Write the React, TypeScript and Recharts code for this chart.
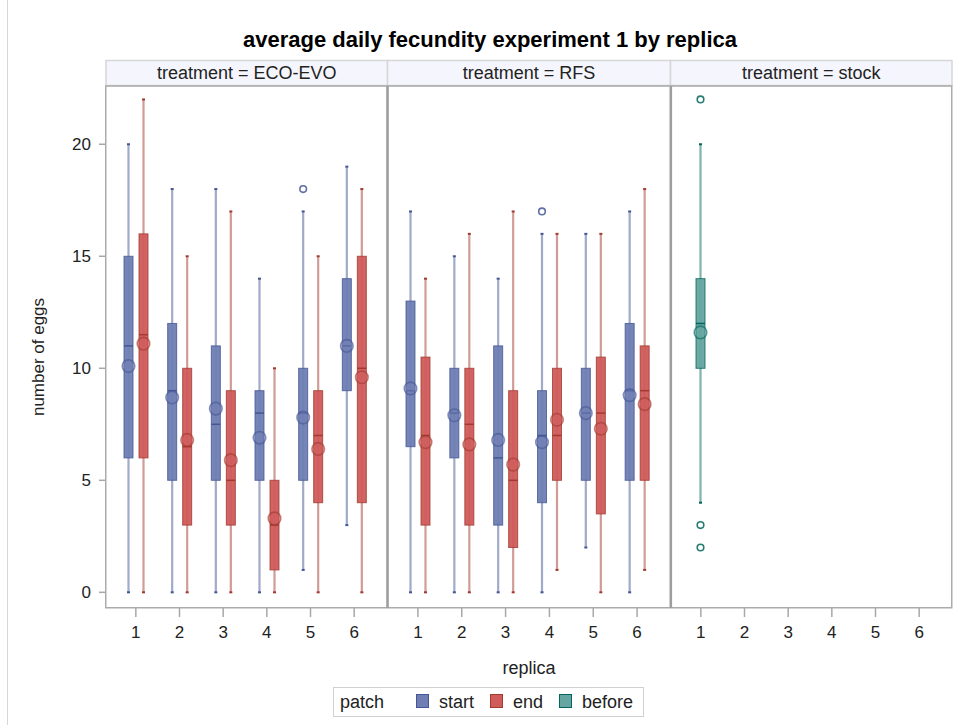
import React from 'react';
import { ComposedChart, Bar, XAxis, YAxis } from 'recharts';

// ---------- categories ----------
const replicas = ['1', '2', '3', '4', '5', '6'];
const yTicks = [0, 5, 10, 15, 20];

// ---------- treatment = ECO-EVO, patch = start ----------
const ecoStartMin = [0, 0, 0, 0, 1, 3];
const ecoStartQ1 = [6, 5, 5, 5, 5, 9];
const ecoStartMed = [11, 9, 7.5, 8, 8, 11];
const ecoStartQ3 = [15, 12, 11, 9, 10, 14];
const ecoStartMax = [20, 18, 18, 14, 17, 19];
const ecoStartMean = [10.1, 8.7, 8.2, 6.9, 7.8, 11.0];
const ecoStartOut = [[], [], [], [], [18], []];

// ---------- treatment = ECO-EVO, patch = end ----------
const ecoEndMin = [0, 0, 0, 0, 0, 0];
const ecoEndQ1 = [6, 3, 3, 1, 4, 4];
const ecoEndMed = [11.5, 6.5, 5, 3, 7, 10];
const ecoEndQ3 = [16, 10, 9, 5, 9, 15];
const ecoEndMax = [22, 15, 17, 10, 15, 18];
const ecoEndMean = [11.1, 6.8, 5.9, 3.3, 6.4, 9.6];
const ecoEndOut = [[], [], [], [], [], []];

// ---------- treatment = RFS, patch = start ----------
const rfsStartMin = [0, 0, 0, 0, 2, 0];
const rfsStartQ1 = [6.5, 6, 3, 4, 5, 5];
const rfsStartMed = [9, 8, 6, 7, 8, 9];
const rfsStartQ3 = [13, 10, 11, 9, 10, 12];
const rfsStartMax = [17, 15, 14, 16, 16, 17];
const rfsStartMean = [9.1, 7.9, 6.8, 6.7, 8.0, 8.8];
const rfsStartOut = [[], [], [], [17], [], []];

// ---------- treatment = RFS, patch = end ----------
const rfsEndMin = [0, 0, 0, 1, 0, 1];
const rfsEndQ1 = [3, 3, 2, 5, 3.5, 5];
const rfsEndMed = [7, 7.5, 5, 7, 8, 9];
const rfsEndQ3 = [10.5, 10, 9, 10, 10.5, 11];
const rfsEndMax = [14, 16, 17, 16, 16, 18];
const rfsEndMean = [6.7, 6.6, 5.7, 7.7, 7.3, 8.4];
const rfsEndOut = [[], [], [], [], [], []];

// ---------- treatment = stock, patch = before (replica 1 only) ----------
const stockMin = [4, null, null, null, null, null];
const stockQ1 = [10, null, null, null, null, null];
const stockMed = [12, null, null, null, null, null];
const stockQ3 = [14, null, null, null, null, null];
const stockMax = [20, null, null, null, null, null];
const stockMean = [11.6, null, null, null, null, null];
const stockOut = [[22, 3, 2], [], [], [], [], []];

type Stat = { min: number; q1: number; med: number; q3: number; max: number; mean: number; out: number[] } | null;

const stat = (mn: any[], q1: any[], md: any[], q3: any[], mx: any[], me: any[], out: number[][], i: number): Stat =>
  mn[i] == null ? null : { min: mn[i], q1: q1[i], med: md[i], q3: q3[i], max: mx[i], mean: me[i], out: out[i] };

const ecoData = replicas.map((r, i) => ({
  replica: r,
  start: stat(ecoStartMin, ecoStartQ1, ecoStartMed, ecoStartQ3, ecoStartMax, ecoStartMean, ecoStartOut, i),
  end: stat(ecoEndMin, ecoEndQ1, ecoEndMed, ecoEndQ3, ecoEndMax, ecoEndMean, ecoEndOut, i),
}));
const rfsData = replicas.map((r, i) => ({
  replica: r,
  start: stat(rfsStartMin, rfsStartQ1, rfsStartMed, rfsStartQ3, rfsStartMax, rfsStartMean, rfsStartOut, i),
  end: stat(rfsEndMin, rfsEndQ1, rfsEndMed, rfsEndQ3, rfsEndMax, rfsEndMean, rfsEndOut, i),
}));
const stockData = replicas.map((r, i) => ({
  replica: r,
  before: stat(stockMin, stockQ1, stockMed, stockQ3, stockMax, stockMean, stockOut, i),
}));

const COLORS: Record<string, { fill: string; stroke: string }> = {
  start: { fill: '#6F7EB3', stroke: '#445694' },
  end: { fill: '#D05B5B', stroke: '#A23A2E' },
  before: { fill: '#66A5A0', stroke: '#01665E' },
};

const FONT = '"Liberation Sans", Arial, sans-serif';
const Y_DOMAIN: [number, number] = [-0.7, 22.6];

const makeShape = (key: string) => (props: any) => {
  const { x, y, width, height, payload } = props;
  const s: Stat = payload ? payload[key] : null;
  if (!s || !(height > 0)) return <g />;
  const { fill, stroke } = COLORS[key];
  const py = (v: number) => y + (height * (s.max - v)) / (s.max - s.min);
  const cx = x + width / 2;
  return (
    <g>
      <line x1={cx} x2={cx} y1={py(s.max)} y2={py(s.min)} stroke={stroke} strokeOpacity={0.5} strokeWidth={2.2} />
      <line x1={cx - 1.5} x2={cx + 1.5} y1={py(s.max)} y2={py(s.max)} stroke={stroke} strokeWidth={2} />
      <line x1={cx - 1.5} x2={cx + 1.5} y1={py(s.min)} y2={py(s.min)} stroke={stroke} strokeWidth={2} />
      <rect x={x} y={py(s.q3)} width={width} height={py(s.q1) - py(s.q3)} fill={fill} fillOpacity={0.95} stroke={stroke} strokeOpacity={0.8} strokeWidth={1} />
      <line x1={x} x2={x + width} y1={py(s.med)} y2={py(s.med)} stroke={stroke} strokeWidth={1.5} />
      <circle cx={cx} cy={py(s.mean)} r={6.3} fill={fill} fillOpacity={0.5} stroke={stroke} strokeOpacity={0.6} strokeWidth={1.6} />
      {s.out.map((v, k) => (
        <circle key={k} cx={cx} cy={py(v)} r={3.3} fill="white" stroke={stroke} strokeOpacity={0.85} strokeWidth={1.6} />
      ))}
    </g>
  );
};

const rangeKey = (key: string) => (d: any) => (d[key] ? [d[key].min, d[key].max] : null);

const xAxisProps = {
  dataKey: 'replica',
  height: 42,
  padding: { left: 8, right: 11 },
  axisLine: false,
  tickLine: { stroke: '#A8A8A8', strokeWidth: 1.5 },
  tickSize: 9,
  tickMargin: 9,
  interval: 0 as const,
  tick: { fill: '#222', fontSize: 17, fontFamily: FONT },
};

const Panel = ({ data, keys, left, width, showY }: any) => (
  <div style={{ position: 'absolute', left, top: 0 }}>
    <ComposedChart
      width={width}
      height={650}
      data={data}
      margin={{ top: 86, right: 0, bottom: 0, left: 0 }}
      barSize={9}
      barGap={6}
    >
      <XAxis {...(xAxisProps as any)} />
      {showY ? (
        <YAxis
          type="number"
          domain={Y_DOMAIN}
          allowDataOverflow
          ticks={yTicks}
          width={103}
          axisLine={false}
          tickLine={{ stroke: '#A8A8A8', strokeWidth: 1.5 }}
          tickSize={7}
          tickMargin={8}
          tick={{ fill: '#222', fontSize: 17, fontFamily: FONT }}
        />
      ) : (
        <YAxis type="number" domain={Y_DOMAIN} allowDataOverflow hide />
      )}
      {keys.map((k: string) => (
        <Bar key={k} dataKey={rangeKey(k)} shape={makeShape(k)} isAnimationActive={false} />
      ))}
    </ComposedChart>
  </div>
);

const headers = [
  { label: 'treatment = ECO-EVO', x0: 106, x1: 387.5 },
  { label: 'treatment = RFS', x0: 387.5, x1: 670.5 },
  { label: 'treatment = stock', x0: 670.5, x1: 952 },
];

const legendItems = [
  { label: 'start', key: 'start' },
  { label: 'end', key: 'end' },
  { label: 'before', key: 'before' },
];

export default function App() {
  return (
    <div style={{ position: 'absolute', left: 0, top: 0, width: 957, height: 725, background: '#fff', fontFamily: FONT, overflow: 'hidden' }}>
      <Panel data={ecoData} keys={['start', 'end']} left={3} width={384} showY />
      <Panel data={rfsData} keys={['start', 'end']} left={388} width={282} />
      <Panel data={stockData} keys={['before']} left={671} width={281} />
      <svg width={957} height={725} style={{ position: 'absolute', left: 0, top: 0, pointerEvents: 'none' }}>
        <line x1={7.5} x2={7.5} y1={0} y2={725} stroke="#D6D6D6" strokeWidth={1} />
        <text x={490} y={47} textAnchor="middle" fontWeight="bold" fontSize={22} fill="#000" fontFamily={FONT}>
          average daily fecundity experiment 1 by replica
        </text>
        {headers.map((h) => (
          <g key={h.label}>
            <rect x={h.x0} y={60.5} width={h.x1 - h.x0} height={25} fill="#F5F6FD" stroke="#D6D6D6" strokeWidth={1.5} />
            <text x={(h.x0 + h.x1) / 2} y={79} textAnchor="middle" fontSize={18} fill="#222" fontFamily={FONT}>
              {h.label}
            </text>
          </g>
        ))}
        <rect x={105.75} y={86} width={846} height={521.75} fill="none" stroke="#ABABAB" strokeWidth={1.5} />
        <line x1={387.5} x2={387.5} y1={86} y2={608} stroke="#9E9E9E" strokeWidth={2.6} />
        <line x1={670.8} x2={670.8} y1={86} y2={608} stroke="#9E9E9E" strokeWidth={2.6} />
        <text transform="translate(44,357) rotate(-90)" textAnchor="middle" fontSize={17} fill="#222" fontFamily={FONT}>
          number of eggs
        </text>
        <text x={529} y={674} textAnchor="middle" fontSize={18} fill="#222" fontFamily={FONT}>
          replica
        </text>
        <rect x={333.5} y={687.5} width={310} height={29} fill="#fff" stroke="#D0D0D0" strokeWidth={1} />
        <text x={340} y={708} fontSize={18} fill="#222" fontFamily={FONT}>patch</text>
        {legendItems.map((it, i) => {
          const xs = [416, 490, 559][i];
          return (
            <g key={it.key}>
              <rect x={xs + 0.5} y={694.5} width={12} height={13} fill={COLORS[it.key].fill} stroke={COLORS[it.key].stroke} strokeWidth={1} />
              <text x={xs + 23} y={708} fontSize={18} fill="#222" fontFamily={FONT}>{it.label}</text>
            </g>
          );
        })}
      </svg>
    </div>
  );
}
